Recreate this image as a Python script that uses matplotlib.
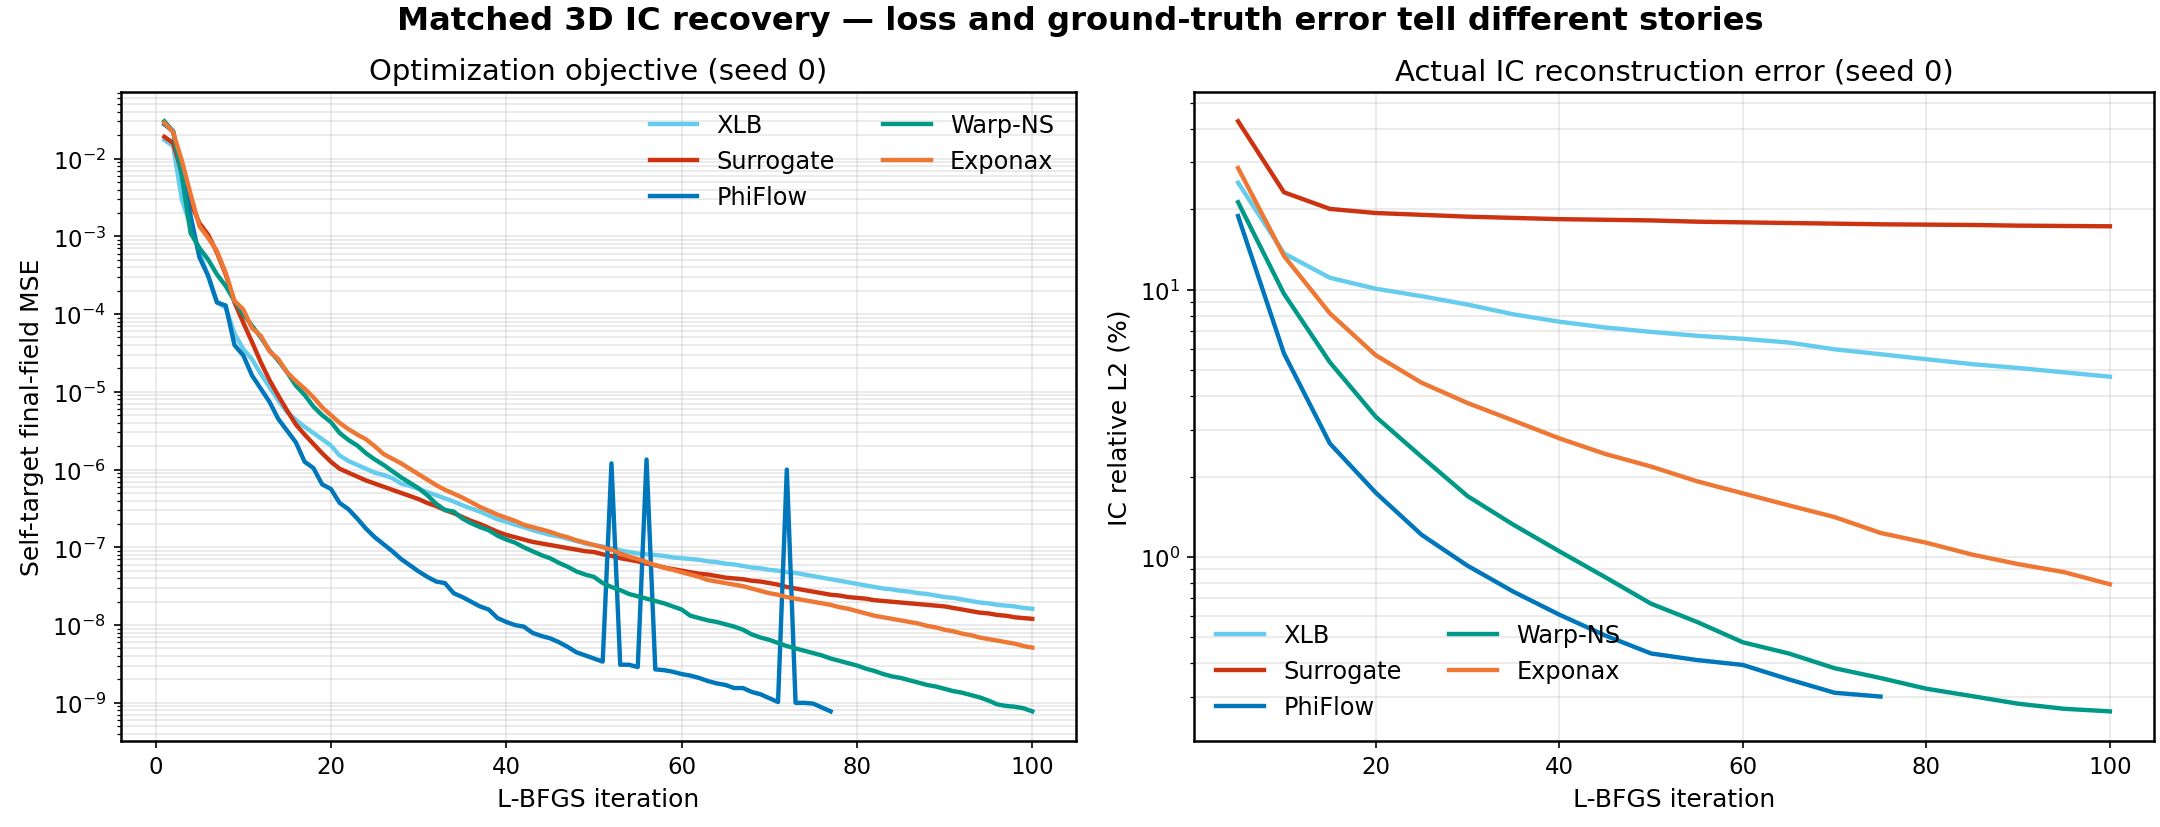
import numpy as np
import matplotlib
matplotlib.use("Agg")
import matplotlib.pyplot as plt

# ---------------- data ----------------
series_names = ["XLB", "Surrogate", "PhiFlow", "Warp-NS", "Exponax"]
series_colors = {"XLB": "#66CCEE", "Surrogate": "#CC3311", "PhiFlow": "#0077BB",
                 "Warp-NS": "#009988", "Exponax": "#EE7733"}

# Left panel: log10 of self-target final-field MSE per L-BFGS iteration
iters_full = list(range(1, 101))
iters_phiflow = list(range(1, 78))

log_mse_xlb = [
    -1.76, -1.84, -2.53, -2.87, -3.21, -3.51, -3.85, -3.92, -4.25, -4.45,
    -4.58, -4.77, -4.94, -5.11, -5.26, -5.36, -5.45, -5.53, -5.61, -5.69,
    -5.82, -5.89, -5.94, -5.99, -6.04, -6.07, -6.11, -6.18, -6.21, -6.25,
    -6.29, -6.33, -6.37, -6.41, -6.46, -6.50, -6.54, -6.59, -6.64, -6.67,
    -6.71, -6.74, -6.78, -6.81, -6.84, -6.86, -6.89, -6.92, -6.95, -6.97,
    -6.99, -7.01, -7.04, -7.06, -7.08, -7.09, -7.10, -7.11, -7.13, -7.14,
    -7.15, -7.16, -7.18, -7.19, -7.21, -7.22, -7.24, -7.26, -7.27, -7.29,
    -7.30, -7.32, -7.33, -7.35, -7.37, -7.39, -7.41, -7.43, -7.45, -7.47,
    -7.49, -7.51, -7.53, -7.54, -7.56, -7.57, -7.59, -7.60, -7.62, -7.64,
    -7.65, -7.67, -7.69, -7.71, -7.72, -7.74, -7.75, -7.76, -7.78, -7.79,
]
log_mse_surrogate = [
    -1.72, -1.80, -2.19, -2.57, -2.83, -2.98, -3.21, -3.49, -3.85, -4.11,
    -4.36, -4.62, -4.85, -5.05, -5.24, -5.42, -5.55, -5.67, -5.79, -5.90,
    -5.99, -6.04, -6.09, -6.14, -6.18, -6.22, -6.26, -6.30, -6.34, -6.38,
    -6.43, -6.47, -6.52, -6.56, -6.61, -6.66, -6.70, -6.75, -6.80, -6.84,
    -6.87, -6.90, -6.93, -6.95, -6.97, -6.99, -7.01, -7.03, -7.05, -7.06,
    -7.09, -7.11, -7.14, -7.16, -7.18, -7.21, -7.23, -7.26, -7.28, -7.30,
    -7.32, -7.34, -7.35, -7.37, -7.39, -7.40, -7.41, -7.43, -7.44, -7.46,
    -7.48, -7.51, -7.53, -7.55, -7.57, -7.59, -7.61, -7.62, -7.64, -7.65,
    -7.66, -7.68, -7.69, -7.70, -7.71, -7.72, -7.73, -7.74, -7.75, -7.76,
    -7.78, -7.80, -7.82, -7.84, -7.85, -7.87, -7.88, -7.90, -7.91, -7.92,
]
log_mse_phiflow = [
    -1.56, -1.65, -2.19, -2.74, -3.27, -3.51, -3.85, -3.89, -4.40, -4.53,
    -4.79, -4.96, -5.13, -5.35, -5.50, -5.65, -5.90, -5.98, -6.19, -6.25,
    -6.43, -6.51, -6.63, -6.76, -6.87, -6.96, -7.05, -7.15, -7.23, -7.31,
    -7.38, -7.44, -7.46, -7.59, -7.64, -7.70, -7.76, -7.80, -7.91, -7.96,
    -8.00, -8.02, -8.10, -8.14, -8.17, -8.22, -8.28, -8.35, -8.39, -8.43,
    -8.47, -5.92, -8.51, -8.51, -8.54, -5.87, -8.57, -8.58, -8.60, -8.63,
    -8.65, -8.68, -8.72, -8.75, -8.77, -8.81, -8.81, -8.86, -8.89, -8.94,
    -8.99, -6.00, -9.00, -9.00, -9.01, -9.06, -9.11,
]
log_mse_warp = [
    -1.52, -1.65, -2.23, -2.96, -3.15, -3.30, -3.49, -3.64, -3.83, -4.00,
    -4.15, -4.30, -4.47, -4.60, -4.75, -4.92, -5.04, -5.19, -5.30, -5.39,
    -5.53, -5.62, -5.69, -5.79, -5.87, -5.94, -6.02, -6.10, -6.17, -6.24,
    -6.33, -6.44, -6.52, -6.54, -6.63, -6.69, -6.74, -6.78, -6.85, -6.90,
    -6.94, -7.00, -7.05, -7.10, -7.14, -7.20, -7.25, -7.31, -7.35, -7.38,
    -7.46, -7.51, -7.55, -7.60, -7.63, -7.66, -7.69, -7.72, -7.76, -7.80,
    -7.88, -7.91, -7.94, -7.96, -7.99, -8.02, -8.06, -8.12, -8.16, -8.19,
    -8.23, -8.27, -8.30, -8.33, -8.36, -8.39, -8.43, -8.46, -8.49, -8.52,
    -8.56, -8.59, -8.63, -8.66, -8.68, -8.71, -8.74, -8.77, -8.79, -8.82,
    -8.85, -8.87, -8.90, -8.93, -8.97, -9.02, -9.04, -9.05, -9.07, -9.11,
]
log_mse_exponax = [
    -1.54, -1.66, -2.03, -2.46, -2.87, -3.02, -3.19, -3.47, -3.83, -3.94,
    -4.18, -4.28, -4.48, -4.58, -4.75, -4.86, -4.96, -5.07, -5.20, -5.30,
    -5.40, -5.48, -5.55, -5.61, -5.70, -5.80, -5.86, -5.92, -5.99, -6.06,
    -6.13, -6.20, -6.26, -6.31, -6.36, -6.42, -6.48, -6.53, -6.58, -6.62,
    -6.66, -6.71, -6.74, -6.77, -6.80, -6.84, -6.87, -6.91, -6.94, -6.97,
    -7.00, -7.03, -7.08, -7.12, -7.15, -7.19, -7.23, -7.26, -7.29, -7.32,
    -7.35, -7.38, -7.42, -7.44, -7.46, -7.48, -7.50, -7.53, -7.56, -7.59,
    -7.61, -7.64, -7.66, -7.68, -7.70, -7.72, -7.74, -7.77, -7.79, -7.82,
    -7.85, -7.88, -7.90, -7.92, -7.94, -7.96, -7.98, -8.01, -8.03, -8.06,
    -8.08, -8.11, -8.13, -8.16, -8.18, -8.20, -8.22, -8.24, -8.27, -8.29,
]

# Right panel: IC relative L2 error (%) every 5 iterations
iters_ic = [5, 10, 15, 20, 25, 30, 35, 40, 45, 50, 55, 60, 65, 70, 75, 80, 85, 90, 95, 100]
iters_ic_phiflow = [5, 10, 15, 20, 25, 30, 35, 40, 45, 50, 55, 60, 65, 70, 75]
ic_xlb = [25.2, 13.7, 11.1, 10.1, 9.47, 8.81, 8.10, 7.60, 7.23, 6.96,
          6.73, 6.56, 6.35, 5.99, 5.74, 5.50, 5.27, 5.10, 4.91, 4.73]
ic_surrogate = [42.8, 23.2, 20.1, 19.4, 19.1, 18.8, 18.6, 18.4, 18.3, 18.2,
                18.0, 17.9, 17.8, 17.7, 17.6, 17.55, 17.5, 17.4, 17.35, 17.3]
ic_phiflow = [18.9, 5.78, 2.66, 1.74, 1.21, 0.927, 0.741, 0.608, 0.508, 0.435,
              0.411, 0.394, 0.348, 0.310, 0.300]
ic_warp = [21.3, 9.67, 5.36, 3.35, 2.37, 1.69, 1.32, 1.05, 0.84, 0.668,
           0.571, 0.479, 0.435, 0.383, 0.352, 0.321, 0.301, 0.282, 0.270, 0.264]
ic_exponax = [28.6, 13.4, 8.17, 5.69, 4.49, 3.77, 3.24, 2.78, 2.43, 2.18,
              1.92, 1.73, 1.56, 1.41, 1.23, 1.13, 1.02, 0.94, 0.877, 0.79]

left_series = {
    "XLB": (iters_full, log_mse_xlb),
    "Surrogate": (iters_full, log_mse_surrogate),
    "PhiFlow": (iters_phiflow, log_mse_phiflow),
    "Warp-NS": (iters_full, log_mse_warp),
    "Exponax": (iters_full, log_mse_exponax),
}
right_series = {
    "XLB": (iters_ic, ic_xlb),
    "Surrogate": (iters_ic, ic_surrogate),
    "PhiFlow": (iters_ic_phiflow, ic_phiflow),
    "Warp-NS": (iters_ic, ic_warp),
    "Exponax": (iters_ic, ic_exponax),
}

# ---------------- plot ----------------
plt.rcParams["font.family"] = ["DejaVu Sans"]
fig = plt.figure(figsize=(14.4, 5.52), dpi=150)
ax1 = fig.add_axes([0.056, 0.104, 0.442, 0.784])
ax2 = fig.add_axes([0.553, 0.104, 0.444, 0.784])

lw = 2.1
for name in series_names:
    x, ly = left_series[name]
    ax1.plot(x, 10.0 ** np.array(ly), color=series_colors[name], lw=lw, label=name)
    x, y = right_series[name]
    ax2.plot(x, y, color=series_colors[name], lw=lw, label=name)

for ax in (ax1, ax2):
    ax.set_yscale("log")
    ax.grid(True, which="both", color="#b0b0b0", alpha=0.3, lw=0.8)
    ax.set_axisbelow(True)
    ax.set_xlabel("L-BFGS iteration", fontsize=12)
    ax.tick_params(axis="both", which="major", labelsize=11)
    for s in ax.spines.values():
        s.set_linewidth(1.2)

ax1.set_ylabel("Self-target final-field MSE", fontsize=12)
ax2.set_ylabel("IC relative L2 (%)", fontsize=12)
ax1.set_title("Optimization objective (seed 0)", fontsize=14)
ax2.set_title("Actual IC reconstruction error (seed 0)", fontsize=14)

ax1.legend(loc="upper right", ncol=2, frameon=False, fontsize=11.5)
ax2.legend(loc="lower left", ncol=2, frameon=False, fontsize=11.5)

fig.suptitle("Matched 3D IC recovery \u2014 loss and ground-truth error tell different stories",
             fontsize=15.5, fontweight="bold", y=0.993)

fig.savefig("out.png", dpi=150)
